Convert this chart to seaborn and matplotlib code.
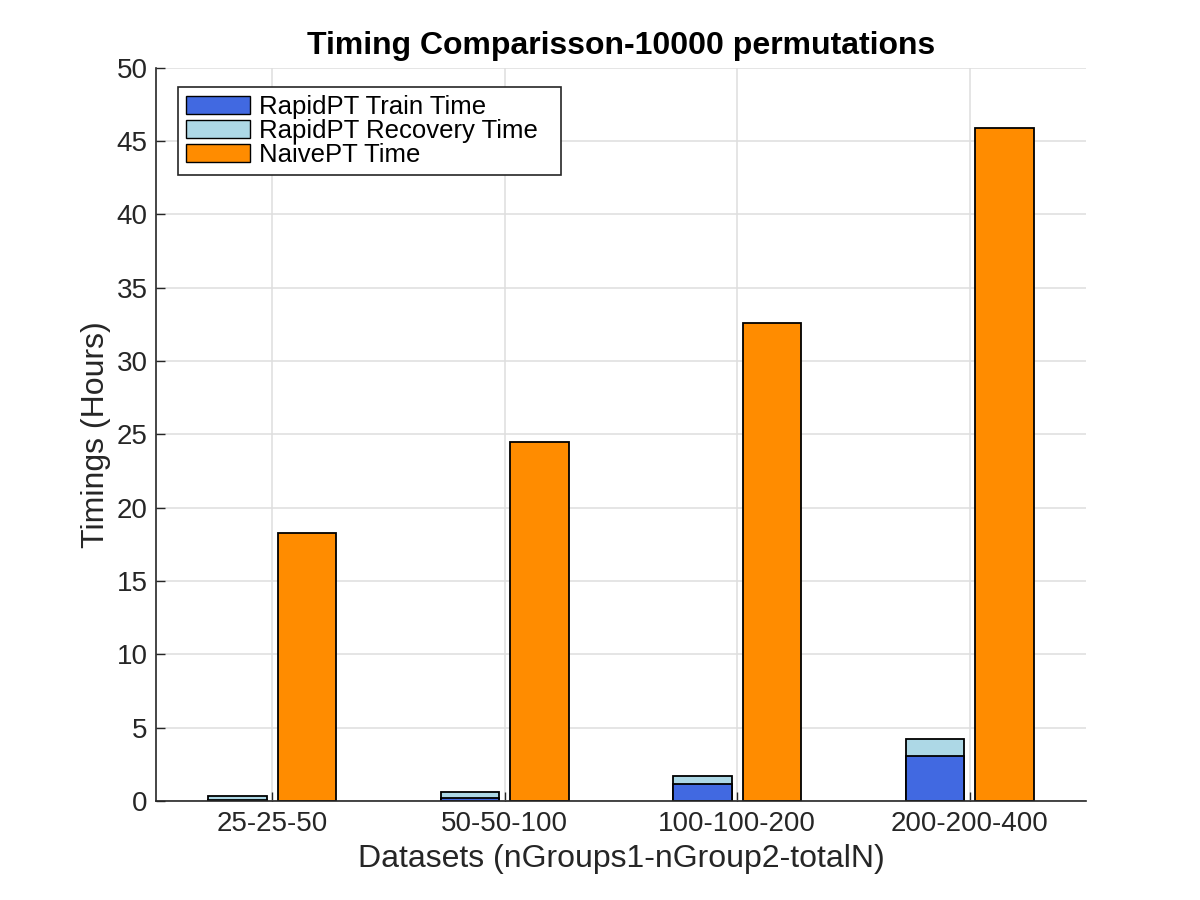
import pandas as pd
import matplotlib.pyplot as plt
import matplotlib.patches as mpatches
import seaborn as sns

datasets = ['25-25-50', '50-50-100', '100-100-200', '200-200-400']
train_time = [0.1, 0.2, 1.15, 3.1]
recovery_time = [0.25, 0.4, 0.57, 1.15]
naive_time = [18.3, 24.45, 32.6, 45.9]

sns.set_style('whitegrid')
plt.rcParams['font.family'] = ['Liberation Sans', 'DejaVu Sans']

rapid_total = [t + r for t, r in zip(train_time, recovery_time)]
df = pd.DataFrame({
    'Dataset': datasets * 2,
    'Method': ['RapidPT'] * 4 + ['NaivePT'] * 4,
    'Total': rapid_total + naive_time,
    'Train': train_time + [float('nan')] * 4,
})
hue_order = ['RapidPT', 'NaivePT']

fig, ax = plt.subplots(figsize=(12, 9), dpi=100)
fig.subplots_adjust(left=0.13, right=0.905, bottom=0.11, top=0.925)

# full stack (train + recovery) in light blue, naive in orange
sns.barplot(data=df, x='Dataset', y='Total', hue='Method', hue_order=hue_order,
            palette={'RapidPT': '#add8e6', 'NaivePT': '#ff8c00'},
            width=0.6, gap=0.16, edgecolor='black', linewidth=1.3,
            saturation=1, errorbar=None, legend=False, ax=ax)
# train part on top of it
sns.barplot(data=df, x='Dataset', y='Train', hue='Method', hue_order=hue_order,
            palette={'RapidPT': '#4169e1', 'NaivePT': '#ff8c00'},
            width=0.6, gap=0.16, edgecolor='black', linewidth=1.3,
            saturation=1, errorbar=None, legend=False, ax=ax)

ax.set_xlim(-0.5, 3.5)
ax.set_ylim(0, 50)
ax.set_yticks(range(0, 51, 5))
ax.set_axisbelow(True)
ax.grid(True, color='#dedede', linewidth=1.1)
ax.tick_params(direction='in', length=6.5, width=1, color='#262626',
               labelsize=20, labelcolor='#262626', left=True, bottom=True)
ax.tick_params(axis='x', pad=7.5)
ax.tick_params(axis='y', pad=6)
for side in ['top', 'right']:
    ax.spines[side].set_visible(False)
for side in ['left', 'bottom']:
    ax.spines[side].set_color('#262626')
    ax.spines[side].set_linewidth(1.2)

ax.set_title('Timing Comparisson-10000 permutations', fontsize=23, fontweight='bold',
             color='black', pad=10)
ax.set_xlabel('Datasets (nGroups1-nGroup2-totalN)', fontsize=23, color='#262626', labelpad=5)
ax.set_ylabel('Timings (Hours)', fontsize=23, color='#262626', labelpad=4)

handles = [
    mpatches.Patch(facecolor='#4169e1', edgecolor='black', label='RapidPT Train Time'),
    mpatches.Patch(facecolor='#add8e6', edgecolor='black', label='RapidPT Recovery Time'),
    mpatches.Patch(facecolor='#ff8c00', edgecolor='black', label='NaivePT Time'),
]
leg = ax.legend(handles=handles, loc='upper left', bbox_to_anchor=(0.0237, 0.973, 0.412, 0.0),
                mode='expand', fontsize=18.5, fancybox=False, framealpha=1, edgecolor='#262626',
                handlelength=2.5, handleheight=0.72, labelspacing=0.0,
                handletextpad=0.35, borderpad=0.3, borderaxespad=0)
leg.get_frame().set_linewidth(1.2)
for txt in leg.get_texts():
    txt.set_color('black')

plt.savefig('out.png', dpi=100)
